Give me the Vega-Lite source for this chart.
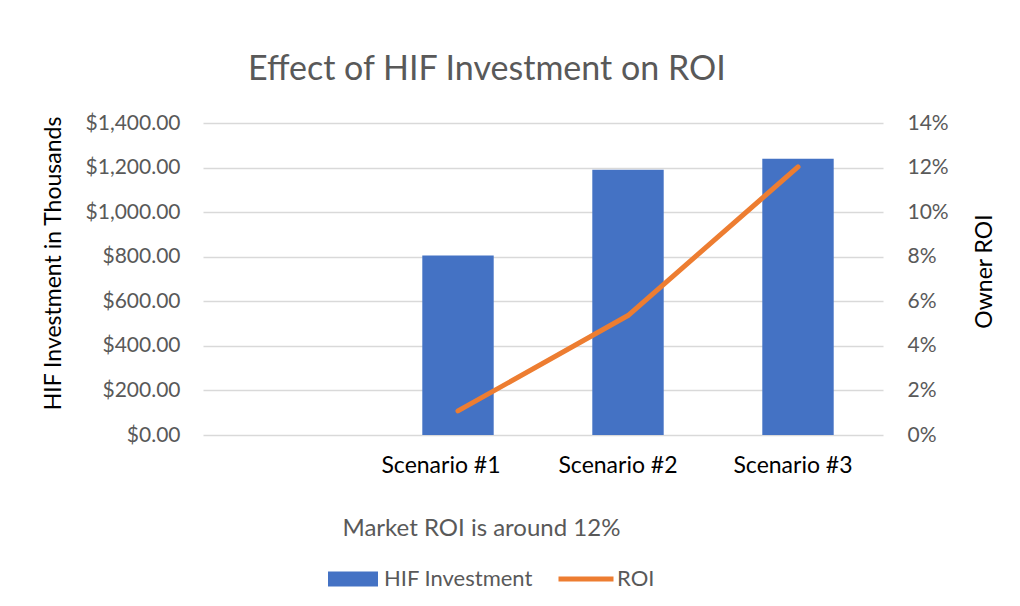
{
  "$schema": "https://vega.github.io/schema/vega-lite/v6.json",
  "autosize": "none",
  "width": 680,
  "height": 312,
  "padding": {"left": 203, "top": 123, "right": 137, "bottom": 171},
  "background": "white",
  "title": {
    "text": "Effect of HIF Investment on ROI",
    "anchor": "start",
    "frame": "group",
    "dx": 45,
    "baseline": "alphabetic",
    "offset": -2,
    "font": "Lato",
    "fontSize": 34,
    "fontWeight": "normal",
    "color": "#595959"
  },
  "data": {
    "values": [
      {"scenario": "Scenario #1", "hif": 805, "roi": 0.0108},
      {"scenario": "Scenario #2", "hif": 1190, "roi": 0.0536},
      {"scenario": "Scenario #3", "hif": 1240, "roi": 0.1203}
    ]
  },
  "encoding": {
    "x": {
      "field": "scenario",
      "type": "nominal",
      "sort": null,
      "scale": {"domain": ["", "Scenario #1", "Scenario #2", "Scenario #3"], "paddingInner": 0.58, "paddingOuter": 0.29},
      "axis": {
        "title": "Market ROI is around 12%",
        "titleAnchor": "start",
        "titleAlign": "left",
        "titleX": 139,
        "titleY": 100,
        "titleBaseline": "alphabetic",
        "titleFont": "Lato",
        "titleFontSize": 24,
        "titleFontWeight": "normal",
        "titleColor": "#595959",
        "labelAngle": 0,
        "labelFont": "Lato",
        "labelFontSize": 23,
        "labelColor": "#000000",
        "labelPadding": 19,
        "labelOffset": {"expr": "datum.label === 'Scenario #1' ? -17 : datum.label === 'Scenario #2' ? -10 : -5"},
        "ticks": false,
        "domain": false,
        "grid": false
      }
    }
  },
  "layer": [
    {
      "mark": {"type": "bar", "color": "#4472c4"},
      "encoding": {
        "y": {
          "field": "hif",
          "type": "quantitative",
          "scale": {"domain": [0, 1400]},
          "axis": {
            "title": "HIF Investment in Thousands",
            "titleFont": "Lato",
            "titleFontSize": 23,
            "titleFontWeight": "normal",
            "titleColor": "#000000",
            "titlePadding": 20,
            "titleY": 140,
            "values": [0, 200, 400, 600, 800, 1000, 1200, 1400],
            "format": "$,.2f",
            "labelFont": "Lato",
            "labelFontSize": 21,
            "labelColor": "#595959",
            "labelPadding": 23,
            "ticks": false,
            "domain": false,
            "grid": true,
            "gridColor": "#d9d9d9",
            "gridWidth": 1.5
          }
        },
        "color": {
          "datum": "HIF Investment",
          "type": "nominal",
          "scale": {"domain": ["HIF Investment", "ROI"], "range": ["#4472c4", "#ed7d31"]},
          "legend": {
            "title": null,
            "orient": "none",
            "direction": "horizontal",
            "legendX": 125,
            "legendY": 431,
            "labelFont": "Lato",
            "labelFontSize": 22,
            "labelColor": "#595959",
            "symbolSize": 2500,
            "columnPadding": 25,
            "labelOffset": 6,
            "encode": {
              "symbols": {
                "update": {
                  "shape": {"signal": "datum.value === 'ROI' ? 'M-1.1,-0.1L1.1,-0.1L1.1,0.1L-1.1,0.1Z' : 'M-1,-0.3L1,-0.3L1,0.3L-1,0.3Z'"},
                  "fill": {"signal": "datum.value === 'ROI' ? '#ed7d31' : '#4472c4'"},
                  "strokeWidth": {"value": 0},
                  "opacity": {"value": 1},
                  "fillOpacity": {"value": 1}
                }
              }
            }
          }
        }
      }
    },
    {
      "mark": {"type": "line", "color": "#ed7d31", "strokeWidth": 5, "strokeCap": "round", "strokeJoin": "round"},
      "encoding": {
        "y": {
          "field": "roi",
          "type": "quantitative",
          "scale": {"domain": [0, 0.14]},
          "axis": {
            "orient": "right",
            "title": "Owner ROI",
            "titleAngle": -90,
            "titleBaseline": "top",
            "titleFont": "Lato",
            "titleFontSize": 23,
            "titleFontWeight": "normal",
            "titleColor": "#000000",
            "titlePadding": 25,
            "titleY": 148,
            "values": [0, 0.02, 0.04, 0.06, 0.08, 0.1, 0.12, 0.14],
            "format": ".0%",
            "labelFont": "Lato",
            "labelFontSize": 21,
            "labelColor": "#595959",
            "labelPadding": 24,
            "ticks": false,
            "domain": false,
            "grid": false
          }
        },
        "color": {"datum": "ROI", "type": "nominal"}
      }
    }
  ],
  "resolve": {"scale": {"y": "independent"}},
  "config": {"view": {"stroke": null}}
}
